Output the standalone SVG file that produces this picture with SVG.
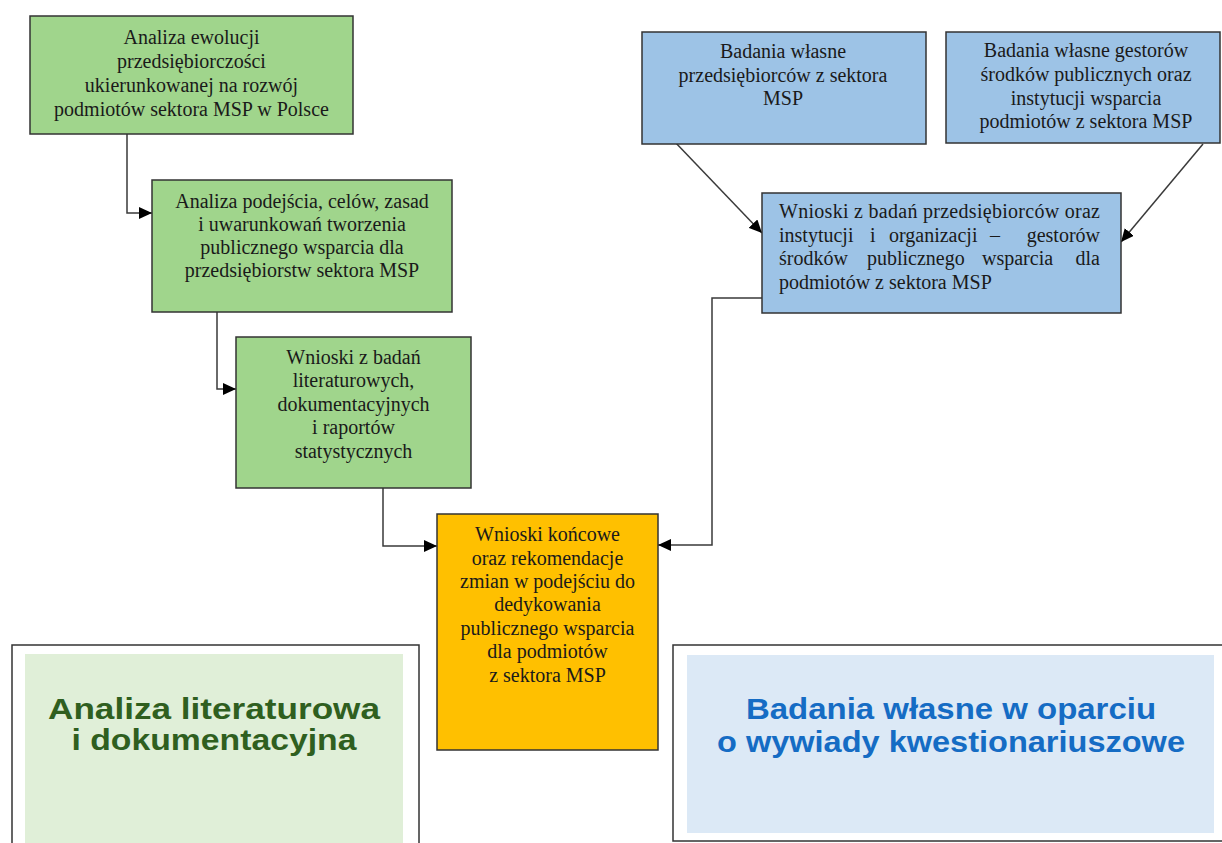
<svg xmlns="http://www.w3.org/2000/svg" width="1222" height="843" viewBox="0 0 1222 843">
<style>
.box{stroke:#333;stroke-width:1.5}
.g{fill:#a0d58c}
.b{fill:#9dc3e6}
.o{fill:#ffc000}
.t{font-family:"Liberation Serif","DejaVu Serif",serif;font-size:20px;fill:#1a1a1a}
.c{text-anchor:middle}
.e{text-anchor:end}
.conn{fill:none;stroke:#3a3a3a;stroke-width:1.5}
.big{font-family:"Liberation Sans","DejaVu Sans",sans-serif;font-weight:bold;font-size:29px;text-anchor:middle}
</style>
<defs>
<marker id="arr" markerUnits="userSpaceOnUse" markerWidth="14" markerHeight="12" refX="13" refY="6" orient="auto">
<path d="M0,0 L13,6 L0,12 Z" fill="#000"/>
</marker>
</defs>
<rect width="1222" height="843" fill="#fff"/>

<g id="legend-left">
<rect x="12" y="645" width="407" height="210" fill="#fff" stroke="#333" stroke-width="1.5"/>
<rect x="25" y="654" width="378" height="195" fill="#e0efd8"/>
<text class="big" x="214" y="719" fill="#2f5f1f" textLength="332" lengthAdjust="spacingAndGlyphs">Analiza literaturowa</text>
<text class="big" x="214" y="750" fill="#2f5f1f" textLength="285" lengthAdjust="spacingAndGlyphs">i dokumentacyjna</text>
</g>

<g id="legend-right">
<rect x="673" y="645" width="560" height="196" fill="#fff" stroke="#333" stroke-width="1.5"/>
<rect x="687" y="655" width="527" height="178" fill="#dce9f6"/>
<text class="big" x="951" y="719" fill="#156cc4" textLength="410" lengthAdjust="spacingAndGlyphs">Badania własne w oparciu</text>
<text class="big" x="951" y="752" fill="#156cc4" textLength="468" lengthAdjust="spacingAndGlyphs">o wywiady kwestionariuszowe</text>
</g>

<g id="connectors">
<path class="conn" d="M127,134 V213 H152" marker-end="url(#arr)"/>
<path class="conn" d="M217,312 V389 H236" marker-end="url(#arr)"/>
<path class="conn" d="M383,488 V546 H437" marker-end="url(#arr)"/>
<path class="conn" d="M762,298 H712 V545 H658" marker-end="url(#arr)"/>
<path class="conn" d="M674,141 L762,233" marker-end="url(#arr)"/>
<path class="conn" d="M1203,144 L1121,242" marker-end="url(#arr)"/>
</g>

<g id="n1">
<rect class="box g" x="30" y="16" width="323" height="118"/>
<text class="t c" x="191.5" y="44">Analiza ewolucji</text>
<text class="t c" x="191.5" y="68">przedsiębiorczości</text>
<text class="t c" x="191.5" y="92">ukierunkowanej na rozwój</text>
<text class="t c" x="191.5" y="116">podmiotów sektora MSP w Polsce</text>
</g>

<g id="n2">
<rect class="box g" x="152" y="180" width="300" height="132"/>
<text class="t c" x="302" y="208">Analiza podejścia, celów, zasad</text>
<text class="t c" x="302" y="231">i uwarunkowań tworzenia</text>
<text class="t c" x="302" y="254">publicznego wsparcia dla</text>
<text class="t c" x="302" y="277">przedsiębiorstw sektora MSP</text>
</g>

<g id="n3">
<rect class="box g" x="236" y="337" width="235" height="151"/>
<text class="t c" x="353.5" y="364">Wnioski z badań</text>
<text class="t c" x="353.5" y="387">literaturowych,</text>
<text class="t c" x="353.5" y="411">dokumentacyjnych</text>
<text class="t c" x="353.5" y="434">i raportów</text>
<text class="t c" x="353.5" y="458">statystycznych</text>
</g>

<g id="n4">
<rect class="box o" x="437" y="514" width="221" height="236"/>
<text class="t c" x="547.5" y="541">Wnioski końcowe</text>
<text class="t c" x="547.5" y="565">oraz rekomendacje</text>
<text class="t c" x="547.5" y="588">zmian w podejściu do</text>
<text class="t c" x="547.5" y="611">dedykowania</text>
<text class="t c" x="547.5" y="635">publicznego wsparcia</text>
<text class="t c" x="547.5" y="658">dla podmiotów</text>
<text class="t c" x="547.5" y="682">z sektora MSP</text>
</g>

<g id="n5">
<rect class="box b" x="642" y="32" width="284" height="112"/>
<text class="t c" x="783" y="58">Badania własne</text>
<text class="t c" x="783" y="82">przedsiębiorców z sektora</text>
<text class="t c" x="783" y="105">MSP</text>
</g>

<g id="n6">
<rect class="box b" x="946" y="32" width="274" height="111"/>
<text class="t c" x="1086" y="57">Badania własne gestorów</text>
<text class="t c" x="1086" y="81">środków publicznych oraz</text>
<text class="t c" x="1086" y="105">instytucji wsparcia</text>
<text class="t c" x="1086" y="128">podmiotów z sektora MSP</text>
</g>

<g id="n7">
<rect class="box b" x="762" y="193" width="359" height="120"/>
<text class="t" x="779" y="218" textLength="321" lengthAdjust="spacing">Wnioski z badań przedsiębiorców oraz</text>
<text class="t" x="779" y="242">instytucji</text>
<text class="t" x="870" y="242">i</text>
<text class="t" x="889" y="242">organizacji</text>
<text class="t" x="990" y="242">–</text>
<text class="t e" x="1100" y="242">gestorów</text>
<text class="t" x="779" y="265">środków</text>
<text class="t" x="867" y="265">publicznego</text>
<text class="t" x="982" y="265">wsparcia</text>
<text class="t e" x="1100" y="265">dla</text>
<text class="t" x="779" y="289">podmiotów z sektora MSP</text>
</g>
</svg>
